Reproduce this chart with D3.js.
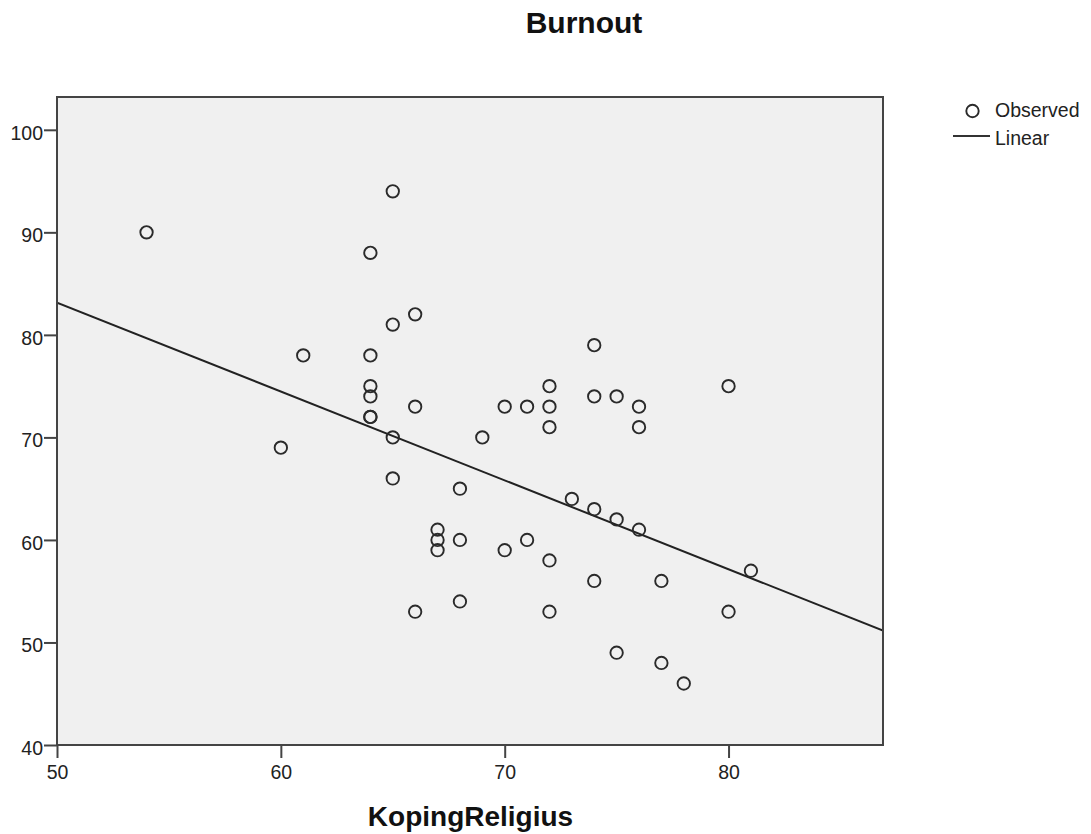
<!DOCTYPE html>
<html><head><meta charset="utf-8">
<script src="https://cdn.jsdelivr.net/npm/d3@7"></script>
<style>body{margin:0;background:#fff;} text{font-family:Arial,"Liberation Sans",sans-serif;}</style>
</head><body><svg id="c" width="1091" height="834"></svg>
<script>
const koping = [54,65,64,66,65,61,64,64,64,64,64,66,60,65,65,69,68,67,67,67,68,66,68,70,71,72,72,70,71,72,72,72,74,74,75,76,76,73,74,75,76,74,77,75,77,78,80,80,81];
const burnout = [90,94,88,82,81,78,78,75,74,72,72,73,69,70,66,70,65,61,60,59,60,53,54,59,60,58,53,73,73,75,73,71,79,74,74,73,71,64,63,62,61,56,56,49,48,46,75,53,57];
const linear = {intercept:126.5, slope:-0.867};
const xTicks = [50,60,70,80];
const yTicks = [40,50,60,70,80,90,100];

const svg = d3.select("#c");
const L=57,T=97,R=883,B=745;
const x = d3.scaleLinear().domain([50,86.9]).range([L,R]);
const y = d3.scaleLinear().domain([40,103.2]).range([B,T]);

svg.append("rect").attr("x",L).attr("y",T).attr("width",R-L).attr("height",B-T).attr("fill","#f0f0f0");

const xa = svg.append("g").attr("transform",`translate(0,${B})`).call(d3.axisBottom(x).tickValues(xTicks).tickSize(13).tickPadding(7).tickFormat(d3.format("d")));
const ya = svg.append("g").attr("transform",`translate(${L},0)`).call(d3.axisLeft(y).tickValues(yTicks).tickSize(13).tickPadding(1).tickFormat(d3.format("d")));
[xa,ya].forEach(a=>{a.select(".domain").remove();a.selectAll("line").attr("stroke","#444").attr("stroke-width",2);a.selectAll("text").attr("font-size",19.5).attr("fill","#222").attr("font-family","Arial, 'Liberation Sans', sans-serif");});
ya.selectAll("text").attr("y",3);

svg.append("clipPath").attr("id","cp").append("rect").attr("x",L).attr("y",T).attr("width",R-L).attr("height",B-T);
const xd=x.domain();
svg.append("line").attr("clip-path","url(#cp)")
 .attr("x1",x(xd[0])).attr("y1",y(linear.intercept+linear.slope*xd[0]))
 .attr("x2",x(xd[1])).attr("y2",y(linear.intercept+linear.slope*xd[1]))
 .attr("stroke","#222").attr("stroke-width",2);

svg.append("g").selectAll("circle").data(koping.map((k,i)=>[k,burnout[i]])).join("circle")
 .attr("cx",d=>x(d[0])).attr("cy",d=>y(d[1])).attr("r",6.2)
 .attr("fill","none").attr("stroke","#2a2a2a").attr("stroke-width",1.9);

svg.append("rect").attr("x",L).attr("y",T).attr("width",R-L).attr("height",B-T).attr("fill","none").attr("stroke","#444").attr("stroke-width",2);

svg.append("text").attr("x",584).attr("y",33).attr("text-anchor","middle").attr("font-size",30).attr("font-weight","bold").attr("fill","#111").text("Burnout");
svg.append("text").attr("x",470.5).attr("y",826).attr("text-anchor","middle").attr("font-size",28).attr("font-weight","bold").attr("fill","#111").text("KopingReligius");

// legend
svg.append("circle").attr("cx",972.5).attr("cy",111).attr("r",6.2).attr("fill","none").attr("stroke","#2a2a2a").attr("stroke-width",1.9);
svg.append("text").attr("x",995).attr("y",117).attr("font-size",19.5).attr("fill","#222").text("Observed");
svg.append("line").attr("x1",953).attr("x2",990).attr("y1",136).attr("y2",136).attr("stroke","#333").attr("stroke-width",2);
svg.append("text").attr("x",995).attr("y",145).attr("font-size",19.5).attr("fill","#222").text("Linear");
</script></body></html>
